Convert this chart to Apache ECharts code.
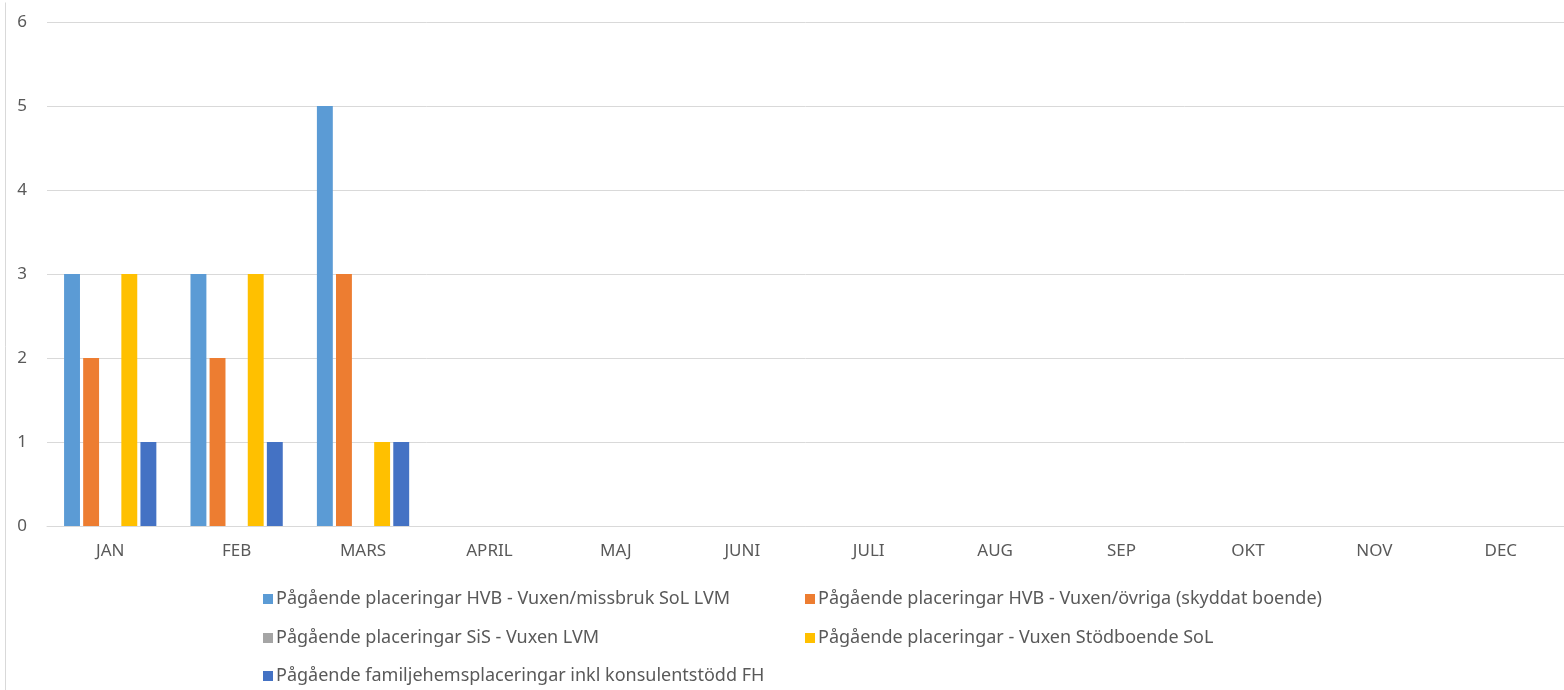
<!DOCTYPE html>
<html>
<head>
<meta charset="utf-8">
<script src="https://cdn.jsdelivr.net/npm/echarts@6/dist/echarts.min.js"></script>
<style>
html,body{margin:0;padding:0;background:#fff;}
#c{width:1564px;height:690px;}
</style>
</head>
<body>
<div id="c"></div>
<script>
const months = ['JAN','FEB','MARS','APRIL','MAJ','JUNI','JULI','AUG','SEP','OKT','NOV','DEC'];
const yTicks = [0,1,2,3,4,5,6];
const seriesNames = [
  'Pågående placeringar HVB - Vuxen/missbruk SoL LVM',
  'Pågående placeringar HVB - Vuxen/övriga (skyddat boende)',
  'Pågående placeringar SiS - Vuxen LVM',
  'Pågående placeringar - Vuxen Stödboende SoL',
  'Pågående familjehemsplaceringar inkl konsulentstödd FH'
];
const hvbMissbruk = [3,3,5,null,null,null,null,null,null,null,null,null];
const hvbOvriga   = [2,2,3,null,null,null,null,null,null,null,null,null];
const sisLvm      = [0,0,0,null,null,null,null,null,null,null,null,null];
const stodboende  = [3,3,1,null,null,null,null,null,null,null,null,null];
const familjehem  = [1,1,1,null,null,null,null,null,null,null,null,null];
const seriesData = [hvbMissbruk, hvbOvriga, sisLvm, stodboende, familjehem];
const colors = ['#5B9BD5','#ED7D31','#A5A5A5','#FFC000','#4472C4'];

const font = "'Noto Sans', 'Open Sans', sans-serif";
const legendPos = [
  {left: 263, top: 590},
  {left: 805, top: 590},
  {left: 263, top: 629},
  {left: 805, top: 629},
  {left: 263, top: 667}
];

const chart = echarts.init(document.getElementById('c'), null, {renderer: 'canvas'});
chart.setOption({
  animation: false,
  backgroundColor: '#fff',
  color: colors,
  grid: {left: 47, right: 0, top: 22, bottom: 164, containLabel: false},
  legend: legendPos.map((p, i) => ({
    left: p.left, top: p.top, padding: 0,
    itemWidth: 10, itemHeight: 10, itemGap: 0,
    icon: 'rect',
    data: [seriesNames[i]],
    textStyle: {color: '#595959', fontSize: 18, fontFamily: font, padding: [0,0,0,-2]},
    selectedMode: false
  })),
  xAxis: {
    type: 'category',
    data: months,
    axisLine: {show: true, lineStyle: {color: '#D9D9D9', width: 1}},
    axisTick: {show: false},
    axisLabel: {color: '#595959', fontSize: 17, fontFamily: font, margin: 17}
  },
  yAxis: {
    type: 'value',
    min: yTicks[0], max: yTicks[yTicks.length-1], interval: 1,
    axisLine: {show: false},
    axisTick: {show: false},
    splitLine: {lineStyle: {color: '#D9D9D9', width: 1}},
    axisLabel: {color: '#595959', fontSize: 17, fontFamily: font, margin: 20}
  },
  graphic: [{
    type: 'line', left: 3, top: 0,
    shape: {x1: 0, y1: 0, x2: 0, y2: 690},
    style: {stroke: '#D9D9D9', lineWidth: 1}
  }],
  series: seriesNames.map((name, i) => ({
    name: name,
    type: 'bar',
    data: seriesData[i],
    barGap: '20%',
    barCategoryGap: '27%',
    itemStyle: {color: colors[i]}
  }))
});
</script>
</body>
</html>
